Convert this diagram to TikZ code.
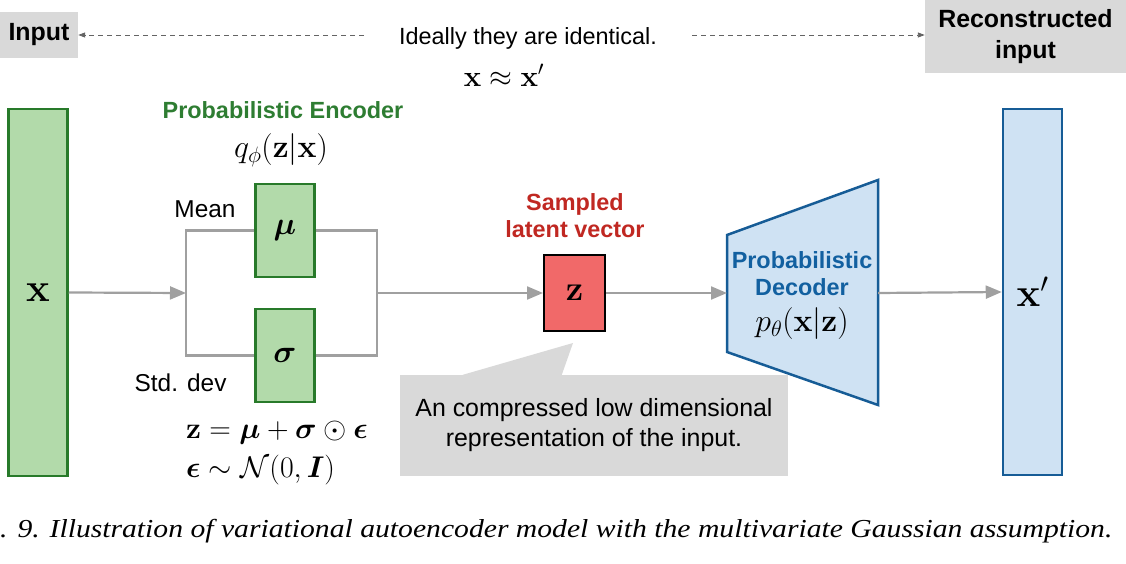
\RequirePackage{fix-cm}
\documentclass[tikz,border=0pt]{standalone}
\usepackage{amsmath}
\usepackage{amssymb}
\usepackage{bm}
\usepackage[no-math]{fontspec}
\setmainfont{Liberation Sans}
\newfontfamily\captionfont{Liberation Serif}
\usetikzlibrary{arrows.meta, positioning, calc}
\definecolor{encFill}{RGB}{178, 218, 170}
\definecolor{encLine}{RGB}{40, 122, 42}
\definecolor{encText}{RGB}{46, 125, 50}
\definecolor{zFill}{RGB}{241, 105, 105}
\definecolor{zText}{RGB}{192, 40, 34}
\definecolor{decFill}{RGB}{207, 226, 243}
\definecolor{decLine}{RGB}{22, 92, 150}
\definecolor{decText}{RGB}{18, 96, 160}
\definecolor{noteGray}{RGB}{217, 217, 217}
\definecolor{wireGray}{RGB}{160, 160, 160}
\definecolor{hintGray}{RGB}{100, 100, 100}

\begin{document}
\begin{tikzpicture}[x=1bp, y=-1bp,
        wire/.style={draw=wireGray, line width=2.2bp},
        flow/.style={wire, -{Triangle[length=16bp, width=13bp]}},
        hint/.style={draw=hintGray, line width=0.9bp, dash pattern=on 5bp off 4bp,
                     -{Triangle[length=7bp, width=5bp]}},
        graybox/.style={fill=noteGray, inner sep=0pt, align=center,
                        font=\bfseries\fontsize{25}{31}\selectfont},
        encbox/.style={draw=encLine, fill=encFill, line width=2.5bp,
                       minimum width=59bp, inner sep=0pt},
        decbox/.style={draw=decLine, fill=decFill, line width=2.5bp,
                       minimum width=59bp, inner sep=0pt},
        lbl/.style={font=\fontsize{24.5}{28}\selectfont},
        head/.style={font=\bfseries\fontsize{23.5}{27}\selectfont, align=center},
        eq/.style={font=\fontsize{30}{34}\selectfont, inner sep=0pt}
    ]
        \useasboundingbox (0,0) rectangle (1126,564);

        % Top: input vs. reconstruction
        \node[graybox, minimum width=78bp, minimum height=46bp] (input) at (39,35) {Input};
        \node[graybox, minimum width=201bp, minimum height=73bp] (recon) at (1025.5,36.5)
            {Reconstructed\\input};
        \node[lbl, font=\fontsize{23.5}{27}\selectfont] (ideal) at (528,38) {Ideally they are identical.};
        \node[eq, font=\fontsize{29.5}{34}\selectfont] (approx) at (504,75)
            {$\mathbf{x} \approx \mathbf{x}'$};
        \coordinate (hint-l) at (364,35);
        \coordinate (hint-r) at (692,35);
        \draw[hint] (hint-l) -- (input.east);
        \draw[hint] (hint-r) -- (recon.west |- hint-r);

        % Input and output vectors
        \node[encbox, minimum height=367bp] (x) at (38,292.5)
            {\fontsize{40}{44}\selectfont$\mathbf{x}$};
        \node[decbox, minimum height=366bp] (xr) at (1032.5,292)
            {\fontsize{40}{44}\selectfont$\mathbf{x}'$};

        % Probabilistic encoder
        \node[head, text=encText] (enc) at (283,110) {Probabilistic Encoder};
        \node[eq, font=\fontsize{32}{36}\selectfont] (qphi) at (281,150)
            {$q_\phi(\mathbf{z}|\mathbf{x})$};
        \node[encbox, minimum height=93bp] (mu) at (285,230.5)
            {\fontsize{32}{36}\selectfont$\boldsymbol{\mu}$};
        \node[encbox, minimum height=93bp] (sigma) at (285,355.5)
            {\fontsize{32}{36}\selectfont$\boldsymbol{\sigma}$};
        \node[lbl, anchor=east] (mean) at (239,209) {Mean};
        \node[lbl, anchor=east] (std) at (230,383) {Std. dev};
        \node[eq, anchor=west] (reparam) at (186,433)
            {$\mathbf{z} = \boldsymbol{\mu} + \boldsymbol{\sigma} \odot \boldsymbol{\epsilon}$};
        \node[eq, anchor=west] (noise) at (186,470)
            {$\boldsymbol{\epsilon} \sim \mathcal{N}(0, \boldsymbol{I})$};

        \coordinate (fork) at (186,293);
        \coordinate (join) at (377,293);
        \draw[wire] (mu.west) -| (fork) |- (sigma.west);
        \draw[wire] (mu.east) -| (join) |- (sigma.east);

        % Sampled latent vector
        \node[draw=black, fill=zFill, line width=2bp, minimum width=61bp,
              minimum height=76bp, inner sep=0pt] (z) at (574.5,293)
            {\fontsize{35}{38}\selectfont$\mathbf{z}$};
        \node[head, text=zText] (zlbl) at (575,216) {Sampled\\latent vector};

        % Probabilistic decoder
        \coordinate (dec-nw) at (727,235);
        \coordinate (dec-ne) at (878,180);
        \coordinate (dec-se) at (878,405);
        \coordinate (dec-sw) at (727,352);
        \draw[draw=decLine, fill=decFill, line width=2.5bp, line join=miter]
            (dec-nw) -- (dec-ne) -- (dec-se) -- (dec-sw) -- cycle;
        \coordinate (dec-w) at (727,293);
        \coordinate (dec-e) at (878,293);
        \node[head, text=decText] (dec) at (802,274) {Probabilistic\\Decoder};
        \node[eq, font=\fontsize{32}{36}\selectfont] (ptheta) at (802,324)
            {$p_\theta(\mathbf{x}|\mathbf{z})$};

        % Connectors
        \draw[flow] (x.east) -- (fork);
        \draw[flow] (join) -- (z.west);
        \draw[flow] (z.east) -- (dec-w);
        \draw[flow] (dec-e) -- (xr.west);

        % Callout for z
        \node[fill=noteGray, minimum width=388bp, minimum height=101bp, align=center,
              font=\fontsize{25}{30}\selectfont] (note) at (594,425.5)
            {An compressed low dimensional\\representation of the input.};
        \coordinate (tip) at (573,343);
        \fill[noteGray] ($(note.north west)+(63,0)$) -- (tip) -- ($(note.north west)+(162,0)$) -- cycle;

        % Caption
        \node[anchor=base west, inner sep=0pt, xscale=1.145, transform shape,
              font=\captionfont\itshape\fontsize{26}{30}\selectfont]
            (caption) at (0,537)
            {. 9. Illustration of variational autoencoder model with the multivariate Gaussian assumption.};
    \end{tikzpicture}
\end{document}
